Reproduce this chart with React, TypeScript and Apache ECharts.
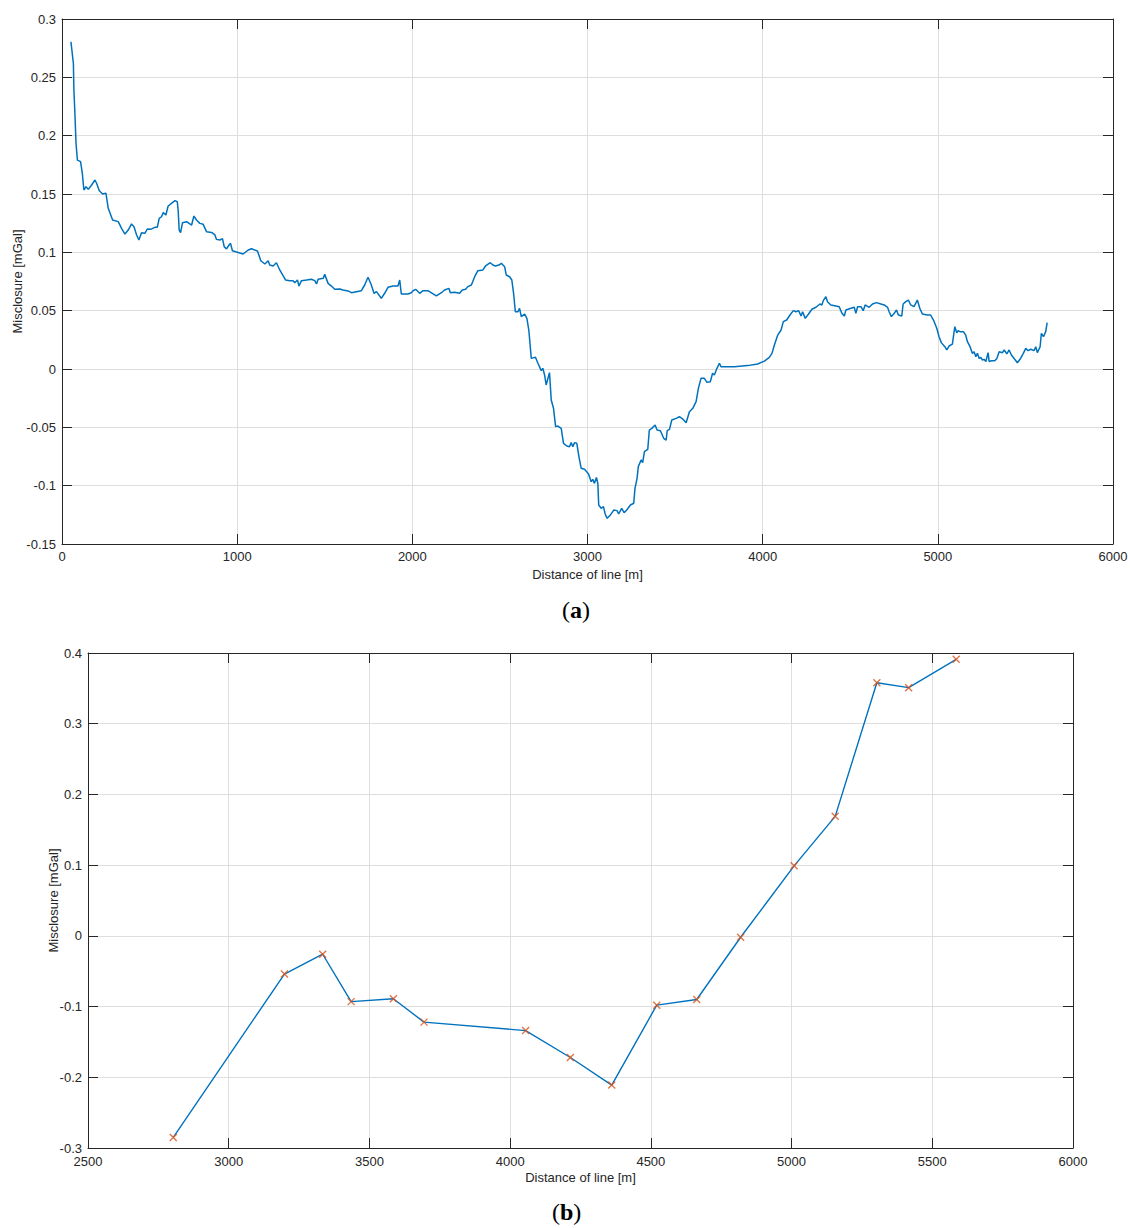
import { useEffect, useRef } from "react";
import * as echarts from "echarts";

// ---- Panel (a): misclosure along the line ----
const distA = [
  51, 65, 68, 74, 80, 88, 106, 116, 125, 137, 150, 169, 188, 198, 213, 232, 251, 264, 289, 321,
  340, 359, 378, 397, 411, 426, 439, 454, 473, 487, 506, 530, 544, 555, 568, 578, 593, 606, 625, 645,
  658, 663, 669, 677, 688, 711, 740, 753, 768, 787, 806, 825, 854, 873, 882, 901, 916, 926, 939, 954,
  962, 973, 996, 1034, 1063, 1082, 1116, 1135, 1158, 1177, 1186, 1205, 1224, 1243, 1276, 1300, 1319, 1329, 1344, 1353,
  1367, 1396, 1424, 1443, 1453, 1462, 1491, 1500, 1519, 1538, 1557, 1586, 1604, 1633, 1652, 1681, 1709, 1728, 1747, 1766,
  1781, 1795, 1823, 1842, 1861, 1890, 1918, 1928, 1937, 1975, 1994, 2004, 2019, 2042, 2061, 2089, 2114, 2137, 2166, 2184,
  2209, 2217, 2241, 2270, 2285, 2304, 2317, 2337, 2356, 2374, 2403, 2418, 2445, 2460, 2475, 2494, 2508, 2527, 2536, 2555,
  2568, 2578, 2588, 2603, 2612, 2622, 2641, 2654, 2665, 2679, 2703, 2717, 2736, 2745, 2755, 2764, 2783, 2793, 2806, 2818,
  2831, 2850, 2863, 2882, 2897, 2907, 2916, 2926, 2939, 2951, 2964, 2983, 3006, 3021, 3030, 3040, 3051, 3059, 3064, 3078,
  3091, 3101, 3112, 3131, 3150, 3169, 3178, 3195, 3209, 3224, 3245, 3264, 3271, 3283, 3290, 3306, 3315, 3325, 3344, 3353,
  3367, 3386, 3397, 3416, 3435, 3449, 3455, 3468, 3481, 3506, 3525, 3544, 3563, 3582, 3601, 3620, 3633, 3648, 3667, 3682,
  3701, 3714, 3724, 3739, 3753, 3762, 3838, 3914, 3971, 4010, 4038, 4053, 4067, 4086, 4105, 4118, 4137, 4156, 4175, 4190,
  4205, 4219, 4228, 4243, 4262, 4281, 4304, 4327, 4338, 4346, 4361, 4370, 4389, 4418, 4437, 4453, 4466, 4475, 4504, 4523,
  4532, 4542, 4561, 4574, 4585, 4608, 4627, 4650, 4675, 4694, 4713, 4722, 4735, 4751, 4764, 4775, 4794, 4802, 4817, 4832,
  4845, 4864, 4883, 4897, 4912, 4940, 4959, 4978, 4994, 5007, 5020, 5040, 5051, 5064, 5083, 5097, 5108, 5116, 5127, 5146,
  5159, 5169, 5184, 5197, 5207, 5217, 5226, 5236, 5245, 5255, 5264, 5274, 5287, 5293, 5306, 5325, 5337, 5350, 5369, 5379,
  5394, 5407, 5420, 5439, 5454, 5469, 5488, 5502, 5515, 5530, 5549, 5559, 5568, 5584, 5591, 5603, 5616, 5624,
];
const miscA = [
  0.2805, 0.262, 0.239, 0.2177, 0.1934, 0.179, 0.1777, 0.1677, 0.1534, 0.1563, 0.154, 0.1577, 0.162, 0.159, 0.1528, 0.15, 0.1506, 0.1377, 0.1277, 0.1263,
  0.1206, 0.1157, 0.1191, 0.1243, 0.122, 0.1149, 0.1106, 0.1168, 0.1163, 0.12, 0.1197, 0.1214, 0.1214, 0.1291, 0.1305, 0.134, 0.132, 0.1397, 0.142, 0.1443,
  0.1434, 0.1363, 0.1191, 0.1168, 0.1254, 0.1263, 0.1234, 0.1311, 0.1277, 0.1248, 0.124, 0.1177, 0.1171, 0.1149, 0.1111, 0.1106, 0.1117, 0.1049, 0.1029, 0.1063,
  0.1077, 0.1014, 0.1003, 0.0986, 0.102, 0.1031, 0.1011, 0.0928, 0.09, 0.0928, 0.0891, 0.0883, 0.0911, 0.0849, 0.0763, 0.0757, 0.0757, 0.074, 0.0763, 0.0711,
  0.0757, 0.0763, 0.0769, 0.0757, 0.0729, 0.0769, 0.0777, 0.0811, 0.0734, 0.0711, 0.0683, 0.0686, 0.0677, 0.0669, 0.0654, 0.0663, 0.0671, 0.072, 0.0786, 0.072,
  0.0649, 0.0663, 0.0606, 0.0649, 0.07, 0.0711, 0.0711, 0.0763, 0.0643, 0.0643, 0.0654, 0.0671, 0.0683, 0.0649, 0.0671, 0.0671, 0.0649, 0.0626, 0.0654, 0.0677,
  0.0691, 0.0654, 0.0657, 0.0649, 0.0677, 0.0683, 0.0706, 0.072, 0.0791, 0.0843, 0.0849, 0.0883, 0.0911, 0.0891, 0.0883, 0.0891, 0.0906, 0.0877, 0.0806, 0.0791,
  0.0763, 0.0649, 0.0491, 0.0491, 0.052, 0.0449, 0.0471, 0.0434, 0.0334, 0.0091, 0.01, 0.0049, -0.0014, 0.0006, -0.0051, -0.0137, -0.0031, -0.0266, -0.0337, -0.0494,
  -0.0489, -0.0509, -0.0637, -0.066, -0.0666, -0.0631, -0.0666, -0.0631, -0.0637, -0.0751, -0.0851, -0.086, -0.09, -0.0966, -0.0946, -0.098, -0.0929, -0.098, -0.1166, -0.1194,
  -0.118, -0.1243, -0.128, -0.1251, -0.1209, -0.1214, -0.1243, -0.1194, -0.1231, -0.1209, -0.1166, -0.1151, -0.1023, -0.0937, -0.0837, -0.078, -0.0803, -0.0709, -0.0689, -0.0523,
  -0.0509, -0.048, -0.0523, -0.0529, -0.0594, -0.0609, -0.0529, -0.0517, -0.0437, -0.0423, -0.0409, -0.0429, -0.046, -0.0366, -0.0337, -0.028, -0.0166, -0.008, -0.008, -0.0114,
  -0.0109, -0.0037, -0.0051, 0.0006, 0.0049, 0.002, 0.002, 0.0029, 0.0043, 0.0068, 0.01, 0.0134, 0.0206, 0.0291, 0.0334, 0.0406, 0.042, 0.0463, 0.05, 0.0491,
  0.05, 0.0454, 0.0491, 0.0434, 0.0471, 0.0512, 0.0529, 0.0557, 0.0549, 0.0586, 0.062, 0.0577, 0.0549, 0.054, 0.0534, 0.0477, 0.0454, 0.0506, 0.052, 0.0529,
  0.0477, 0.0534, 0.0534, 0.05, 0.0549, 0.0529, 0.0557, 0.0569, 0.0557, 0.0549, 0.0529, 0.0491, 0.0449, 0.0477, 0.0506, 0.0463, 0.0454, 0.0557, 0.0577, 0.0591,
  0.0549, 0.0534, 0.0591, 0.052, 0.0471, 0.0463, 0.0463, 0.041, 0.0349, 0.0277, 0.0226, 0.0191, 0.0163, 0.0197, 0.0214, 0.0363, 0.0311, 0.0328, 0.032, 0.032,
  0.0291, 0.0234, 0.0191, 0.0134, 0.0148, 0.0105, 0.0134, 0.0091, 0.01, 0.0077, 0.0083, 0.0063, 0.014, 0.0063, 0.0071, 0.0071, 0.0091, 0.0148, 0.014, 0.0163,
  0.0129, 0.0163, 0.012, 0.0083, 0.0054, 0.0083, 0.0134, 0.0177, 0.0157, 0.0169, 0.0157, 0.0191, 0.014, 0.0191, 0.0306, 0.0277, 0.032, 0.0397,
];

// ---- Panel (b): misclosure at crossing points ----
const distB = [2803, 3198, 3334, 3435, 3585, 3694, 4055, 4214, 4361, 4521, 4663, 4819, 5009, 5155, 5303, 5416, 5585];
const miscB = [-0.285, -0.054, -0.026, -0.093, -0.089, -0.122, -0.134, -0.172, -0.211, -0.098, -0.09, -0.002, 0.099, 0.169, 0.358, 0.351, 0.391];

const xNameA = "Distance of line [m]";
const yNameA = "Misclosure [mGal]";
const panelLabels = ["a", "b"];

const AX = "#262626";
const GRID = "#dedede";
const FONT = "Liberation Sans, Arial, sans-serif";

const fmt = (v: number) => String(parseFloat(v.toFixed(4)));

const axisLineStyle = { show: true, onZero: false, lineStyle: { color: AX, width: 1 } };
const tickStyle = { show: true, inside: true, length: 10, lineStyle: { color: AX, width: 1 } };

function mainX(gridIndex: number, min: number, max: number, interval: number, labelMargin: number, nameGap: number) {
  return {
    type: "value",
    gridIndex,
    position: "bottom",
    min,
    max,
    interval,
    name: xNameA,
    nameLocation: "middle",
    nameGap,
    nameMoveOverlap: false,
    nameTextStyle: { color: AX, fontSize: 13, fontFamily: FONT },
    axisLine: axisLineStyle,
    axisTick: tickStyle,
    axisLabel: { color: AX, fontSize: 13, fontFamily: FONT, margin: labelMargin, formatter: fmt },
    splitLine: { show: true, lineStyle: { color: GRID, width: 1 } },
  };
}
function mirrorX(gridIndex: number, min: number, max: number, interval: number) {
  return {
    type: "value",
    gridIndex,
    position: "top",
    min,
    max,
    interval,
    axisLine: axisLineStyle,
    axisTick: tickStyle,
    axisLabel: { show: false },
    splitLine: { show: false },
  };
}
function mainY(gridIndex: number, min: number, max: number, interval: number, nameGap: number) {
  return {
    type: "value",
    gridIndex,
    position: "left",
    min,
    max,
    interval,
    name: yNameA,
    nameLocation: "middle",
    nameGap,
    nameMoveOverlap: false,
    nameTextStyle: { color: AX, fontSize: 13, fontFamily: FONT },
    axisLine: axisLineStyle,
    axisTick: tickStyle,
    axisLabel: { color: AX, fontSize: 13, fontFamily: FONT, margin: 6, formatter: fmt },
    splitLine: { show: true, lineStyle: { color: GRID, width: 1 } },
  };
}
function mirrorY(gridIndex: number, min: number, max: number, interval: number) {
  return {
    type: "value",
    gridIndex,
    position: "right",
    min,
    max,
    interval,
    axisLine: axisLineStyle,
    axisTick: tickStyle,
    axisLabel: { show: false },
    splitLine: { show: false },
  };
}

export default function App() {
  const ref = useRef<HTMLDivElement>(null);
  useEffect(() => {
    if (!ref.current) return;
    const chart = echarts.init(ref.current, null, { renderer: "svg" });
    const lineA = distA.map((d, i) => [d, miscA[i]]);
    const lineB = distB.map((d, i) => [d, miscB[i]]);
    const rich = {
      p: { fontSize: 24, fontFamily: "Liberation Serif, serif", fill: "#000" },
      b: { fontSize: 24, fontWeight: "bold", fontFamily: "Liberation Serif, serif", fill: "#000" },
    };
    const option = {
      animation: false,
      backgroundColor: "#ffffff",
      grid: [
        { left: 62, top: 19, width: 1051, height: 525, containLabel: false, outerBoundsMode: "none" },
        { left: 88, top: 653, width: 985, height: 495, containLabel: false, outerBoundsMode: "none" },
      ],
      xAxis: [
        mainX(0, 0, 6000, 1000, 6, 24),
        mirrorX(0, 0, 6000, 1000),
        mainX(1, 2500, 6000, 500, 7, 23),
        mirrorX(1, 2500, 6000, 500),
      ],
      yAxis: [
        mainY(0, -0.15, 0.3, 0.05, 38),
        mirrorY(0, -0.15, 0.3, 0.05),
        mainY(1, -0.3, 0.4, 0.1, 28),
        mirrorY(1, -0.3, 0.4, 0.1),
      ],
      series: [
        {
          type: "line",
          xAxisIndex: 0,
          yAxisIndex: 0,
          data: lineA,
          showSymbol: false,
          symbol: "none",
          lineStyle: { color: "#0072BD", width: 1.5 },
        },
        {
          type: "line",
          xAxisIndex: 2,
          yAxisIndex: 2,
          data: lineB,
          showSymbol: false,
          symbol: "none",
          lineStyle: { color: "#0072BD", width: 1.4 },
          z: 2,
        },
        {
          type: "scatter",
          xAxisIndex: 2,
          yAxisIndex: 2,
          data: lineB,
          symbol: "path://M0,0L10,10M0,10L10,0",
          symbolSize: 7,
          itemStyle: { color: "rgba(0,0,0,0)", borderColor: "#D95319", borderWidth: 1.4 },
          z: 3,
        },
      ],
      graphic: [
        {
          type: "text",
          left: 562,
          top: 598,
          style: { text: "{p|(}{b|" + panelLabels[0] + "}{p|)}", rich },
        },
        {
          type: "text",
          left: 552,
          top: 1200,
          style: { text: "{p|(}{b|" + panelLabels[1] + "}{p|)}", rich },
        },
      ],
    };
    chart.setOption(option as any);
    return () => chart.dispose();
  }, []);
  return (
    <div
      ref={ref}
      style={{ position: "absolute", left: 0, top: 0, width: 1130, height: 1228, background: "#fff" }}
    />
  );
}
